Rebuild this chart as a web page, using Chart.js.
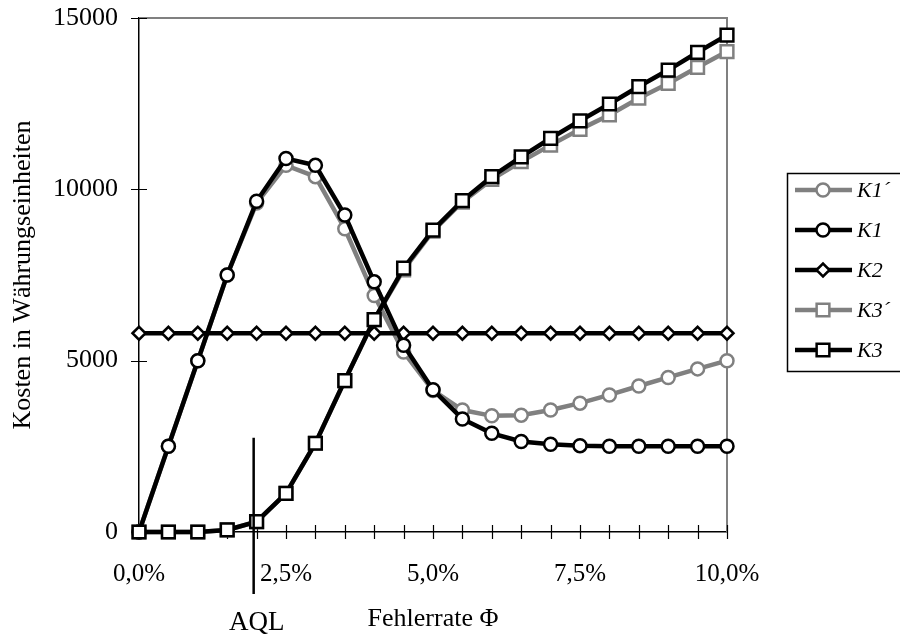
<!DOCTYPE html>
<html>
<head>
<meta charset="utf-8">
<script src="https://cdn.jsdelivr.net/npm/chart.js@4.4.1/dist/chart.umd.min.js"></script>
<style>
  html, body { margin: 0; padding: 0; background: #fff; }
</style>
</head>
<body>
<canvas id="chart" width="900" height="636"></canvas>
<script>
// Fehlerrate in %, one point every 0,5 %
const fehlerrate = [0, 0.5, 1, 1.5, 2, 2.5, 3, 3.5, 4, 4.5, 5, 5.5, 6, 6.5, 7, 7.5, 8, 8.5, 9, 9.5, 10];

// cost curves (Währungseinheiten)
const k1Strich = [0, 2500, 5000, 7500, 9600, 10700, 10370, 8850, 6900, 5250, 4130, 3560, 3390, 3410, 3560, 3760, 4000, 4260, 4510, 4760, 5000];
const k1 = [0, 2500, 5000, 7500, 9650, 10900, 10700, 9250, 7300, 5450, 4150, 3300, 2880, 2640, 2560, 2520, 2500, 2500, 2500, 2500, 2500];
const k2 = [5800, 5800, 5800, 5800, 5800, 5800, 5800, 5800, 5800, 5800, 5800, 5800, 5800, 5800, 5800, 5800, 5800, 5800, 5800, 5800, 5800];
const k3Strich = [0, 0, 0, 60, 300, 1130, 2590, 4420, 6200, 7650, 8780, 9630, 10290, 10810, 11290, 11750, 12170, 12660, 13090, 13560, 14020];
const k3 = [0, 0, 0, 60, 300, 1130, 2590, 4420, 6200, 7700, 8810, 9670, 10370, 10950, 11490, 12000, 12490, 13000, 13480, 14000, 14500];

const yTicks = [0, 5000, 10000, 15000];
const xLabelTicks = [0, 2.5, 5, 7.5, 10];

// AQL marker: position on the x axis and the cost level where the line starts
const aql = 1.95;
const aqlTop = 2750;

const GRAY = '#808080';
const SERIF = "'Liberation Serif', 'Times New Roman', serif";

const pts = arr => fehlerrate.map((f, i) => ({ x: f, y: arr[i] }));

const series = (label, data, color, style, radius, order) => ({
  label: label,
  data: pts(data),
  borderColor: color,
  borderWidth: 4.5,
  pointStyle: style,
  pointRadius: radius,
  pointBorderWidth: 2.5,
  pointBorderColor: color,
  pointBackgroundColor: '#fff',
  tension: 0,
  clip: false,
  order: order
});

const datasets = [
  series('K1\u00B4', k1Strich, GRAY, 'circle', 6.5, 3),
  series('K1', k1, '#000', 'circle', 6.5, 1),
  series('K2', k2, '#000', 'rectRot', 6.5, 2),
  series('K3\u00B4', k3Strich, GRAY, 'rect', 9, 3),
  series('K3', k3, '#000', 'rect', 9, 0)
];

// frame, tick marks crossing the axes, AQL line and the legend box
const extras = {
  id: 'extras',
  beforeDatasetsDraw(chart) {
    const { ctx, chartArea: a, scales: { x, y } } = chart;
    ctx.save();
    ctx.strokeStyle = GRAY;
    ctx.lineWidth = 2;
    ctx.beginPath();
    ctx.moveTo(a.left, a.top);
    ctx.lineTo(a.right, a.top);
    ctx.lineTo(a.right, a.bottom);
    ctx.stroke();

    ctx.strokeStyle = '#000';
    ctx.lineWidth = 1.2;
    ctx.beginPath();
    fehlerrate.forEach(v => {
      const px = Math.round(x.getPixelForValue(v)) + 0.5;
      ctx.moveTo(px, a.bottom - 7);
      ctx.lineTo(px, a.bottom + 7);
    });
    yTicks.forEach(v => {
      const py = Math.round(y.getPixelForValue(v)) + 0.5;
      ctx.moveTo(a.left - 8, py);
      ctx.lineTo(a.left + 8, py);
    });
    ctx.stroke();
    ctx.restore();
  },
  afterDatasetsDraw(chart) {
    const { ctx, scales: { x, y } } = chart;
    const px = x.getPixelForValue(aql);
    ctx.save();
    ctx.strokeStyle = '#000';
    ctx.lineWidth = 2.5;
    ctx.beginPath();
    ctx.moveTo(px, y.getPixelForValue(aqlTop));
    ctx.lineTo(px, y.getPixelForValue(0) + 62);
    ctx.stroke();
    ctx.fillStyle = '#000';
    ctx.font = '27px ' + SERIF;
    ctx.textAlign = 'center';
    ctx.textBaseline = 'alphabetic';
    ctx.fillText('AQL', px + 3, 630);
    ctx.restore();
  },
  afterDraw(chart) {
    const ctx = chart.ctx;
    ctx.save();
    ctx.strokeStyle = '#000';
    ctx.lineWidth = 1.5;
    ctx.strokeRect(787.5, 173.5, 130, 198);
    chart.data.datasets.forEach((ds, i) => {
      const ly = 190 + i * 40;
      ctx.strokeStyle = ds.borderColor;
      ctx.lineWidth = 4.5;
      ctx.beginPath();
      ctx.moveTo(795, ly);
      ctx.lineTo(852, ly);
      ctx.stroke();
      ctx.fillStyle = '#fff';
      ctx.lineWidth = ds.pointBorderWidth;
      Chart.helpers.drawPoint(ctx, {
        pointStyle: ds.pointStyle,
        radius: ds.pointRadius,
        rotation: 0,
        borderWidth: ds.pointBorderWidth
      }, 823, ly);
      ctx.fillStyle = '#000';
      ctx.font = 'italic 22px ' + SERIF;
      ctx.textAlign = 'left';
      ctx.textBaseline = 'middle';
      ctx.fillText(ds.label, 857, ly + 1);
    });
    ctx.restore();
  }
};

Chart.defaults.font.family = SERIF;
Chart.defaults.color = '#000';

new Chart(document.getElementById('chart'), {
  type: 'line',
  data: { datasets: datasets },
  options: {
    responsive: false,
    animation: false,
    layout: { padding: { top: 18, right: 173, left: 0, bottom: 0 } },
    plugins: { legend: { display: false }, tooltip: { enabled: false } },
    scales: {
      x: {
        type: 'linear',
        min: 0,
        max: 10,
        afterFit: s => { s.height = 104; s.paddingLeft = 0; s.paddingRight = 0; },
        afterBuildTicks: s => { s.ticks = xLabelTicks.map(v => ({ value: v })); },
        grid: { display: false, drawTicks: false },
        border: { display: true, color: '#000', width: 1.5 },
        ticks: {
          padding: 27,
          font: { size: 25 },
          maxRotation: 0,
          callback: v => v.toFixed(1).replace('.', ',') + '%'
        },
        title: {
          display: true,
          text: 'Fehlerrate \u03A6',
          font: { size: 26 },
          padding: { top: 0, bottom: 1 }
        }
      },
      y: {
        min: 0,
        max: 15000,
        afterFit: s => { s.width = 139; s.paddingTop = 0; s.paddingBottom = 0; },
        afterBuildTicks: s => { s.ticks = yTicks.map(v => ({ value: v })); },
        grid: { display: false, drawTicks: false },
        border: { display: true, color: '#000', width: 1.5 },
        ticks: {
          padding: 21,
          font: { size: 26 },
          callback: v => String(v)
        },
        title: {
          display: true,
          text: 'Kosten in W\u00E4hrungseinheiten',
          font: { size: 26 },
          padding: { top: 8, bottom: 0 }
        }
      }
    }
  },
  plugins: [extras]
});
</script>
</body>
</html>
